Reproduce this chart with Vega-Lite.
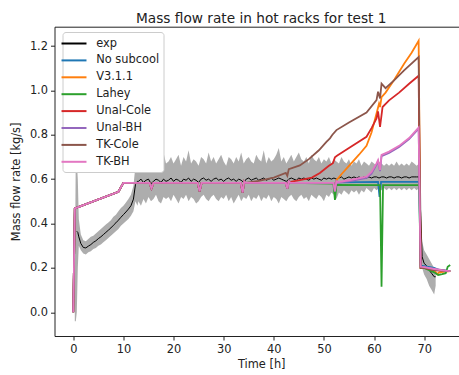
{
  "$schema": "https://vega.github.io/schema/vega-lite/v6.json",
  "width": 413.5,
  "height": 309.3,
  "autosize": {"type": "none"},
  "padding": {"left": 54.5, "top": 26.7, "right": 0, "bottom": 39},
  "background": "white",
  "title": {"text": "Mass flow rate in hot racks for test 1", "fontSize": 13.7, "font": "DejaVu Sans", "fontWeight": "normal", "color": "#222", "anchor": "middle", "frame": "group", "baseline": "alphabetic", "offset": 7, "dy": 16.5},
  "config": {
    "font": "DejaVu Sans",
    "view": {"stroke": "#222", "strokeWidth": 1},
    "axis": {"domain": false, "grid": false, "tickColor": "#222", "tickSize": 4, "tickWidth": 1, "labelFont": "DejaVu Sans", "labelFontSize": 11.4, "labelColor": "#222", "titleFont": "DejaVu Sans", "titleFontSize": 11.4, "titleFontWeight": "normal", "titleColor": "#222", "labelPadding": 3}
  },
  "datasets": {
    "exp": [
      {"t":0.3,"v":null,"lo":-0.04,"hi":0.15},{"t":0.5,"v":null,"lo":-0.04,"hi":0.72},{"t":0.7,"v":0.365,"lo":0.0,"hi":0.68},{"t":0.9,"v":0.36,"lo":0.2,"hi":0.6},{"t":1.1,"v":0.34,"lo":0.3,"hi":0.42},{"t":1.5,"v":0.31,"lo":0.28,"hi":0.35},{"t":2.0,"v":0.292,"lo":0.265,"hi":0.325},{"t":2.5,"v":0.29,"lo":0.26,"hi":0.32},{"t":3.0,"v":0.298,"lo":0.27,"hi":0.33},{"t":3.5,"v":0.305,"lo":0.275,"hi":0.34},{"t":4.0,"v":0.315,"lo":0.285,"hi":0.345},{"t":4.5,"v":0.322,"lo":0.29,"hi":0.355},{"t":5.0,"v":0.332,"lo":0.3,"hi":0.365},{"t":5.5,"v":0.34,"lo":0.305,"hi":0.375},{"t":6.0,"v":0.35,"lo":0.315,"hi":0.385},{"t":6.5,"v":0.36,"lo":0.325,"hi":0.395},{"t":7.0,"v":0.37,"lo":0.335,"hi":0.405},{"t":7.5,"v":0.38,"lo":0.345,"hi":0.415},{"t":8.0,"v":0.392,"lo":0.355,"hi":0.43},{"t":8.5,"v":0.403,"lo":0.365,"hi":0.44},{"t":9.0,"v":0.415,"lo":0.375,"hi":0.455},{"t":9.5,"v":0.428,"lo":0.39,"hi":0.47},{"t":10.0,"v":0.44,"lo":0.4,"hi":0.48},{"t":10.5,"v":0.452,"lo":0.41,"hi":0.495},{"t":11.0,"v":0.465,"lo":0.42,"hi":0.51},{"t":11.5,"v":0.48,"lo":0.435,"hi":0.53},{"t":12.0,"v":0.51,"lo":0.455,"hi":0.57},{"t":12.4,"v":0.575,"lo":0.5,"hi":0.66},{"t":12.8,"v":0.59,"lo":0.48,"hi":0.69},
      {"t":13.0,"v":0.59,"lo":0.5,"hi":0.68},{"t":13.5,"v":0.6,"lo":0.48,"hi":0.7},{"t":14.0,"v":0.585,"lo":0.51,"hi":0.66},{"t":14.5,"v":0.595,"lo":0.49,"hi":0.69},{"t":15.0,"v":0.6,"lo":0.52,"hi":0.71},{"t":15.5,"v":0.58,"lo":0.5,"hi":0.67},{"t":16.0,"v":0.59,"lo":0.51,"hi":0.68},{"t":16.5,"v":0.6,"lo":0.53,"hi":0.7},{"t":17.0,"v":0.595,"lo":0.5,"hi":0.66},{"t":17.5,"v":0.585,"lo":0.49,"hi":0.69},{"t":18.0,"v":0.6,"lo":0.52,"hi":0.72},{"t":18.5,"v":0.59,"lo":0.51,"hi":0.67},{"t":19.0,"v":0.595,"lo":0.52,"hi":0.68},{"t":19.5,"v":0.605,"lo":0.5,"hi":0.7},{"t":20.0,"v":0.59,"lo":0.53,"hi":0.67},{"t":20.5,"v":0.6,"lo":0.51,"hi":0.69},{"t":21.0,"v":0.595,"lo":0.49,"hi":0.71},{"t":21.5,"v":0.585,"lo":0.52,"hi":0.66},{"t":22.0,"v":0.6,"lo":0.51,"hi":0.7},{"t":22.5,"v":0.595,"lo":0.53,"hi":0.68},{"t":23.0,"v":0.605,"lo":0.5,"hi":0.73},{"t":23.5,"v":0.59,"lo":0.52,"hi":0.67},{"t":24.0,"v":0.6,"lo":0.51,"hi":0.69},{"t":24.5,"v":0.595,"lo":0.49,"hi":0.68},{"t":25.0,"v":0.585,"lo":0.5,"hi":0.66},{"t":25.5,"v":0.6,"lo":0.52,"hi":0.7},{"t":26.0,"v":0.605,"lo":0.53,"hi":0.69},{"t":26.5,"v":0.595,"lo":0.51,"hi":0.67},{"t":27.0,"v":0.6,"lo":0.5,"hi":0.72},{"t":27.5,"v":0.59,"lo":0.52,"hi":0.68},{"t":28.0,"v":0.6,"lo":0.53,"hi":0.7},{"t":28.5,"v":0.605,"lo":0.51,"hi":0.67},{"t":29.0,"v":0.595,"lo":0.5,"hi":0.69},{"t":29.5,"v":0.6,"lo":0.52,"hi":0.71},{"t":30.0,"v":0.59,"lo":0.51,"hi":0.68},{"t":30.5,"v":0.6,"lo":0.53,"hi":0.66},{"t":31.0,"v":0.605,"lo":0.5,"hi":0.7},{"t":31.5,"v":0.595,"lo":0.52,"hi":0.69},{"t":32.0,"v":0.6,"lo":0.49,"hi":0.67},{"t":32.5,"v":0.59,"lo":0.51,"hi":0.7},{"t":33.0,"v":0.6,"lo":0.53,"hi":0.68},{"t":33.5,"v":0.595,"lo":0.5,"hi":0.72},{"t":34.0,"v":0.585,"lo":0.52,"hi":0.67},{"t":34.5,"v":0.6,"lo":0.51,"hi":0.69},{"t":35.0,"v":0.605,"lo":0.53,"hi":0.7},{"t":35.5,"v":0.595,"lo":0.5,"hi":0.68},{"t":36.0,"v":0.6,"lo":0.52,"hi":0.67},{"t":36.5,"v":0.605,"lo":0.51,"hi":0.71},{"t":37.0,"v":0.595,"lo":0.53,"hi":0.69},{"t":37.5,"v":0.6,"lo":0.5,"hi":0.68},{"t":38.0,"v":0.605,"lo":0.52,"hi":0.73},{"t":38.5,"v":0.595,"lo":0.51,"hi":0.67},{"t":39.0,"v":0.6,"lo":0.53,"hi":0.7},{"t":39.5,"v":0.605,"lo":0.5,"hi":0.68},{"t":40.0,"v":0.595,"lo":0.52,"hi":0.69},{"t":40.5,"v":0.6,"lo":0.51,"hi":0.71},{"t":41.0,"v":0.605,"lo":0.49,"hi":0.74},{"t":41.5,"v":0.6,"lo":0.52,"hi":0.68},{"t":42.0,"v":0.595,"lo":0.51,"hi":0.7},{"t":42.5,"v":0.59,"lo":0.5,"hi":0.67},{"t":43.0,"v":0.6,"lo":0.52,"hi":0.69},{"t":43.5,"v":0.605,"lo":0.53,"hi":0.71},{"t":44.0,"v":0.6,"lo":0.51,"hi":0.68},{"t":44.5,"v":0.595,"lo":0.5,"hi":0.7},{"t":45.0,"v":0.605,"lo":0.52,"hi":0.72},{"t":45.5,"v":0.6,"lo":0.53,"hi":0.69},{"t":46.0,"v":0.605,"lo":0.51,"hi":0.68},{"t":46.5,"v":0.6,"lo":0.52,"hi":0.7},{"t":47.0,"v":0.595,"lo":0.5,"hi":0.67},{"t":47.5,"v":0.605,"lo":0.53,"hi":0.71},{"t":48.0,"v":0.6,"lo":0.52,"hi":0.69},{"t":48.5,"v":0.605,"lo":0.51,"hi":0.68},{"t":49.0,"v":0.6,"lo":0.53,"hi":0.7},{"t":49.5,"v":0.595,"lo":0.52,"hi":0.67},{"t":50.0,"v":0.605,"lo":0.5,"hi":0.69},{"t":50.5,"v":0.6,"lo":0.53,"hi":0.68},{"t":51.0,"v":0.605,"lo":0.52,"hi":0.7},{"t":51.5,"v":0.6,"lo":0.54,"hi":0.67},{"t":52.0,"v":0.605,"lo":0.53,"hi":0.69},{"t":52.5,"v":0.6,"lo":0.51,"hi":0.68},{"t":53.0,"v":0.605,"lo":0.54,"hi":0.67},{"t":53.5,"v":0.61,"lo":0.53,"hi":0.7},{"t":54.0,"v":0.6,"lo":0.55,"hi":0.68},{"t":54.5,"v":0.605,"lo":0.54,"hi":0.67},{"t":55.0,"v":0.61,"lo":0.53,"hi":0.69},{"t":55.5,"v":0.605,"lo":0.55,"hi":0.66},{"t":56.0,"v":0.61,"lo":0.54,"hi":0.68},{"t":56.5,"v":0.605,"lo":0.55,"hi":0.67},{"t":57.0,"v":0.61,"lo":0.53,"hi":0.69},{"t":57.5,"v":0.605,"lo":0.55,"hi":0.66},{"t":58.0,"v":0.61,"lo":0.54,"hi":0.68},{"t":58.5,"v":0.605,"lo":0.56,"hi":0.67},{"t":59.0,"v":0.61,"lo":0.55,"hi":0.66},{"t":59.5,"v":0.605,"lo":0.54,"hi":0.68},{"t":60.0,"v":0.61,"lo":0.56,"hi":0.67},{"t":60.5,"v":0.61,"lo":0.55,"hi":0.66},{"t":61.0,"v":0.605,"lo":0.56,"hi":0.68},{"t":61.5,"v":0.61,"lo":0.55,"hi":0.67},{"t":62.0,"v":0.61,"lo":0.56,"hi":0.66},{"t":62.5,"v":0.605,"lo":0.55,"hi":0.67},{"t":63.0,"v":0.61,"lo":0.56,"hi":0.66},{"t":63.5,"v":0.61,"lo":0.55,"hi":0.67},{"t":64.0,"v":0.605,"lo":0.56,"hi":0.66},{"t":64.5,"v":0.61,"lo":0.55,"hi":0.68},{"t":65.0,"v":0.61,"lo":0.56,"hi":0.66},{"t":65.5,"v":0.605,"lo":0.55,"hi":0.67},{"t":66.0,"v":0.61,"lo":0.56,"hi":0.66},{"t":66.5,"v":0.61,"lo":0.55,"hi":0.67},{"t":67.0,"v":0.605,"lo":0.56,"hi":0.66},{"t":67.5,"v":0.61,"lo":0.55,"hi":0.68},{"t":68.0,"v":0.61,"lo":0.56,"hi":0.67},{"t":68.5,"v":0.61,"lo":0.55,"hi":0.66},{"t":69.0,"v":0.61,"lo":0.56,"hi":0.67},
      {"t":69.3,"v":0.45,"lo":0.3,"hi":0.62},{"t":69.6,"v":0.25,"lo":0.2,"hi":0.32},{"t":70.0,"v":0.22,"lo":0.17,"hi":0.28},{"t":70.5,"v":0.21,"lo":0.15,"hi":0.26},{"t":71.0,"v":0.19,"lo":0.12,"hi":0.24},{"t":71.5,"v":0.175,"lo":0.1,"hi":0.22},{"t":72.0,"v":0.16,"lo":0.08,"hi":0.2},{"t":72.3,"v":0.16,"lo":0.12,"hi":0.18}
    ],
    "sim": [
      {"series":"No subcool","t":0,"v":0},{"series":"No subcool","t":0.3,"v":0.468},{"series":"No subcool","t":9,"v":0.543},{"series":"No subcool","t":10,"v":0.583},{"series":"No subcool","t":15.2,"v":0.583},{"series":"No subcool","t":15.6,"v":0.558},{"series":"No subcool","t":16,"v":0.583},{"series":"No subcool","t":24.8,"v":0.583},{"series":"No subcool","t":25.2,"v":0.545},{"series":"No subcool","t":25.6,"v":0.583},{"series":"No subcool","t":33.4,"v":0.583},{"series":"No subcool","t":33.8,"v":0.54},{"series":"No subcool","t":34.1,"v":0.59},{"series":"No subcool","t":34.4,"v":0.583},{"series":"No subcool","t":42.4,"v":0.583},{"series":"No subcool","t":42.7,"v":0.558},{"series":"No subcool","t":43.0,"v":0.59},{"series":"No subcool","t":43.3,"v":0.583},{"series":"No subcool","t":51.9,"v":0.583},{"series":"No subcool","t":52.2,"v":0.545},{"series":"No subcool","t":52.5,"v":0.59},{"series":"No subcool","t":52.8,"v":0.585},{"series":"No subcool","t":60.8,"v":0.588},{"series":"No subcool","t":61.1,"v":0.52},{"series":"No subcool","t":61.4,"v":0.588},{"series":"No subcool","t":69.0,"v":0.588},{"series":"No subcool","t":69.3,"v":0.21},{"series":"No subcool","t":70,"v":0.208},{"series":"No subcool","t":72,"v":0.2},{"series":"No subcool","t":73,"v":0.19},{"series":"No subcool","t":75.2,"v":0.185},
      {"series":"V3.1.1","t":0,"v":0},{"series":"V3.1.1","t":0.3,"v":0.468},{"series":"V3.1.1","t":9,"v":0.543},{"series":"V3.1.1","t":10,"v":0.583},{"series":"V3.1.1","t":15.2,"v":0.583},{"series":"V3.1.1","t":15.6,"v":0.558},{"series":"V3.1.1","t":16,"v":0.583},{"series":"V3.1.1","t":24.8,"v":0.583},{"series":"V3.1.1","t":25.2,"v":0.545},{"series":"V3.1.1","t":25.6,"v":0.583},{"series":"V3.1.1","t":33.4,"v":0.583},{"series":"V3.1.1","t":33.8,"v":0.54},{"series":"V3.1.1","t":34.1,"v":0.59},{"series":"V3.1.1","t":34.4,"v":0.583},{"series":"V3.1.1","t":42.4,"v":0.583},{"series":"V3.1.1","t":42.7,"v":0.558},{"series":"V3.1.1","t":43.0,"v":0.59},{"series":"V3.1.1","t":43.3,"v":0.583},{"series":"V3.1.1","t":51.9,"v":0.583},{"series":"V3.1.1","t":52.2,"v":0.545},{"series":"V3.1.1","t":52.5,"v":0.595},{"series":"V3.1.1","t":53.5,"v":0.622},{"series":"V3.1.1","t":55,"v":0.66},{"series":"V3.1.1","t":57,"v":0.71},{"series":"V3.1.1","t":58.5,"v":0.75},{"series":"V3.1.1","t":59.5,"v":0.81},{"series":"V3.1.1","t":60.5,"v":0.896},{"series":"V3.1.1","t":61.0,"v":0.94},{"series":"V3.1.1","t":61.2,"v":0.925},{"series":"V3.1.1","t":61.5,"v":0.97},{"series":"V3.1.1","t":62.3,"v":0.99},{"series":"V3.1.1","t":64.1,"v":1.05},{"series":"V3.1.1","t":66,"v":1.12},{"series":"V3.1.1","t":67.5,"v":1.17},{"series":"V3.1.1","t":68.9,"v":1.224},{"series":"V3.1.1","t":69.3,"v":0.2},{"series":"V3.1.1","t":70,"v":0.2},{"series":"V3.1.1","t":72,"v":0.19},{"series":"V3.1.1","t":72.6,"v":0.172},{"series":"V3.1.1","t":73,"v":0.18},{"series":"V3.1.1","t":75.2,"v":0.185},
      {"series":"Lahey","t":0,"v":0},{"series":"Lahey","t":0.3,"v":0.468},{"series":"Lahey","t":9,"v":0.543},{"series":"Lahey","t":10,"v":0.583},{"series":"Lahey","t":15.2,"v":0.583},{"series":"Lahey","t":15.6,"v":0.558},{"series":"Lahey","t":16,"v":0.583},{"series":"Lahey","t":24.8,"v":0.583},{"series":"Lahey","t":25.2,"v":0.545},{"series":"Lahey","t":25.6,"v":0.583},{"series":"Lahey","t":33.4,"v":0.583},{"series":"Lahey","t":33.8,"v":0.54},{"series":"Lahey","t":34.1,"v":0.59},{"series":"Lahey","t":34.4,"v":0.583},{"series":"Lahey","t":42.4,"v":0.583},{"series":"Lahey","t":42.7,"v":0.558},{"series":"Lahey","t":43.0,"v":0.59},{"series":"Lahey","t":43.3,"v":0.583},{"series":"Lahey","t":51.9,"v":0.58},{"series":"Lahey","t":52.2,"v":0.506},{"series":"Lahey","t":52.5,"v":0.574},{"series":"Lahey","t":61.2,"v":0.573},{"series":"Lahey","t":61.5,"v":0.115},{"series":"Lahey","t":61.8,"v":0.573},{"series":"Lahey","t":69.0,"v":0.573},{"series":"Lahey","t":69.3,"v":0.2},{"series":"Lahey","t":70,"v":0.2},{"series":"Lahey","t":71,"v":0.19},{"series":"Lahey","t":72,"v":0.18},{"series":"Lahey","t":72.8,"v":0.168},{"series":"Lahey","t":73.6,"v":0.172},{"series":"Lahey","t":74.3,"v":0.176},{"series":"Lahey","t":74.7,"v":0.205},{"series":"Lahey","t":75.2,"v":0.213},
      {"series":"Unal-Cole","t":0,"v":0},{"series":"Unal-Cole","t":0.3,"v":0.468},{"series":"Unal-Cole","t":9,"v":0.543},{"series":"Unal-Cole","t":10,"v":0.583},{"series":"Unal-Cole","t":15.2,"v":0.583},{"series":"Unal-Cole","t":15.6,"v":0.558},{"series":"Unal-Cole","t":16,"v":0.583},{"series":"Unal-Cole","t":24.8,"v":0.583},{"series":"Unal-Cole","t":25.2,"v":0.545},{"series":"Unal-Cole","t":25.6,"v":0.583},{"series":"Unal-Cole","t":33.4,"v":0.583},{"series":"Unal-Cole","t":33.8,"v":0.54},{"series":"Unal-Cole","t":34.1,"v":0.59},{"series":"Unal-Cole","t":34.4,"v":0.583},{"series":"Unal-Cole","t":42.4,"v":0.583},{"series":"Unal-Cole","t":42.7,"v":0.558},{"series":"Unal-Cole","t":43.0,"v":0.59},{"series":"Unal-Cole","t":43.3,"v":0.588},{"series":"Unal-Cole","t":45.2,"v":0.596},{"series":"Unal-Cole","t":47.6,"v":0.607},{"series":"Unal-Cole","t":49.2,"v":0.628},{"series":"Unal-Cole","t":51,"v":0.66},{"series":"Unal-Cole","t":51.8,"v":0.672},{"series":"Unal-Cole","t":52.2,"v":0.698},{"series":"Unal-Cole","t":52.6,"v":0.705},{"series":"Unal-Cole","t":55,"v":0.74},{"series":"Unal-Cole","t":58.5,"v":0.791},{"series":"Unal-Cole","t":59.5,"v":0.83},{"series":"Unal-Cole","t":60.5,"v":0.874},{"series":"Unal-Cole","t":60.8,"v":0.905},{"series":"Unal-Cole","t":61.2,"v":0.835},{"series":"Unal-Cole","t":61.7,"v":0.925},{"series":"Unal-Cole","t":63,"v":0.955},{"series":"Unal-Cole","t":65,"v":0.99},{"series":"Unal-Cole","t":67,"v":1.03},{"series":"Unal-Cole","t":68.9,"v":1.066},{"series":"Unal-Cole","t":69.3,"v":0.2},{"series":"Unal-Cole","t":70,"v":0.2},{"series":"Unal-Cole","t":72,"v":0.19},{"series":"Unal-Cole","t":75.2,"v":0.185},
      {"series":"Unal-BH","t":0,"v":0},{"series":"Unal-BH","t":0.3,"v":0.468},{"series":"Unal-BH","t":9,"v":0.543},{"series":"Unal-BH","t":10,"v":0.583},{"series":"Unal-BH","t":15.2,"v":0.583},{"series":"Unal-BH","t":15.6,"v":0.558},{"series":"Unal-BH","t":16,"v":0.583},{"series":"Unal-BH","t":24.8,"v":0.583},{"series":"Unal-BH","t":25.2,"v":0.545},{"series":"Unal-BH","t":25.6,"v":0.583},{"series":"Unal-BH","t":33.4,"v":0.583},{"series":"Unal-BH","t":33.8,"v":0.54},{"series":"Unal-BH","t":34.1,"v":0.59},{"series":"Unal-BH","t":34.4,"v":0.583},{"series":"Unal-BH","t":42.4,"v":0.583},{"series":"Unal-BH","t":42.7,"v":0.558},{"series":"Unal-BH","t":43.0,"v":0.59},{"series":"Unal-BH","t":43.3,"v":0.583},{"series":"Unal-BH","t":51.9,"v":0.583},{"series":"Unal-BH","t":52.2,"v":0.545},{"series":"Unal-BH","t":52.5,"v":0.59},{"series":"Unal-BH","t":52.8,"v":0.585},{"series":"Unal-BH","t":55,"v":0.59},{"series":"Unal-BH","t":58.5,"v":0.605},{"series":"Unal-BH","t":59.5,"v":0.625},{"series":"Unal-BH","t":60.5,"v":0.665},{"series":"Unal-BH","t":60.8,"v":0.68},{"series":"Unal-BH","t":61.2,"v":0.636},{"series":"Unal-BH","t":61.5,"v":0.703},{"series":"Unal-BH","t":63,"v":0.718},{"series":"Unal-BH","t":65,"v":0.745},{"series":"Unal-BH","t":67,"v":0.78},{"series":"Unal-BH","t":68.9,"v":0.828},{"series":"Unal-BH","t":69.3,"v":0.205},{"series":"Unal-BH","t":70,"v":0.203},{"series":"Unal-BH","t":72,"v":0.195},{"series":"Unal-BH","t":75.2,"v":0.185},
      {"series":"TK-Cole","t":0,"v":0},{"series":"TK-Cole","t":0.3,"v":0.468},{"series":"TK-Cole","t":9,"v":0.543},{"series":"TK-Cole","t":10,"v":0.583},{"series":"TK-Cole","t":15.2,"v":0.583},{"series":"TK-Cole","t":15.6,"v":0.558},{"series":"TK-Cole","t":16,"v":0.583},{"series":"TK-Cole","t":24.8,"v":0.583},{"series":"TK-Cole","t":25.2,"v":0.545},{"series":"TK-Cole","t":25.6,"v":0.583},{"series":"TK-Cole","t":33.4,"v":0.583},{"series":"TK-Cole","t":33.8,"v":0.54},{"series":"TK-Cole","t":34.1,"v":0.59},{"series":"TK-Cole","t":34.4,"v":0.583},{"series":"TK-Cole","t":37,"v":0.592},{"series":"TK-Cole","t":40,"v":0.607},{"series":"TK-Cole","t":42.4,"v":0.628},{"series":"TK-Cole","t":42.7,"v":0.615},{"series":"TK-Cole","t":43.0,"v":0.645},{"series":"TK-Cole","t":45.2,"v":0.662},{"series":"TK-Cole","t":47,"v":0.69},{"series":"TK-Cole","t":49,"v":0.73},{"series":"TK-Cole","t":50.5,"v":0.768},{"series":"TK-Cole","t":51.2,"v":0.784},{"series":"TK-Cole","t":51.7,"v":0.8},{"series":"TK-Cole","t":52.5,"v":0.821},{"series":"TK-Cole","t":55,"v":0.855},{"series":"TK-Cole","t":58.5,"v":0.9},{"series":"TK-Cole","t":60.5,"v":0.956},{"series":"TK-Cole","t":60.8,"v":0.994},{"series":"TK-Cole","t":61.2,"v":0.964},{"series":"TK-Cole","t":61.5,"v":1.03},{"series":"TK-Cole","t":62.3,"v":1.01},{"series":"TK-Cole","t":64,"v":1.045},{"series":"TK-Cole","t":66,"v":1.09},{"series":"TK-Cole","t":68.9,"v":1.15},{"series":"TK-Cole","t":69.3,"v":0.2},{"series":"TK-Cole","t":70,"v":0.2},{"series":"TK-Cole","t":72,"v":0.19},{"series":"TK-Cole","t":75.2,"v":0.185},
      {"series":"TK-BH","t":0,"v":0},{"series":"TK-BH","t":0.3,"v":0.468},{"series":"TK-BH","t":9,"v":0.543},{"series":"TK-BH","t":10,"v":0.583},{"series":"TK-BH","t":15.2,"v":0.583},{"series":"TK-BH","t":15.6,"v":0.558},{"series":"TK-BH","t":16,"v":0.583},{"series":"TK-BH","t":24.8,"v":0.583},{"series":"TK-BH","t":25.2,"v":0.545},{"series":"TK-BH","t":25.6,"v":0.583},{"series":"TK-BH","t":33.4,"v":0.583},{"series":"TK-BH","t":33.8,"v":0.54},{"series":"TK-BH","t":34.1,"v":0.59},{"series":"TK-BH","t":34.4,"v":0.583},{"series":"TK-BH","t":42.4,"v":0.583},{"series":"TK-BH","t":42.7,"v":0.558},{"series":"TK-BH","t":43.0,"v":0.59},{"series":"TK-BH","t":43.3,"v":0.583},{"series":"TK-BH","t":51.9,"v":0.583},{"series":"TK-BH","t":52.2,"v":0.545},{"series":"TK-BH","t":52.5,"v":0.59},{"series":"TK-BH","t":52.8,"v":0.587},{"series":"TK-BH","t":55,"v":0.595},{"series":"TK-BH","t":58.5,"v":0.611},{"series":"TK-BH","t":59.5,"v":0.632},{"series":"TK-BH","t":60.5,"v":0.671},{"series":"TK-BH","t":60.8,"v":0.686},{"series":"TK-BH","t":61.2,"v":0.641},{"series":"TK-BH","t":61.5,"v":0.709},{"series":"TK-BH","t":63,"v":0.724},{"series":"TK-BH","t":65,"v":0.75},{"series":"TK-BH","t":67,"v":0.785},{"series":"TK-BH","t":68.9,"v":0.832},{"series":"TK-BH","t":69.3,"v":0.205},{"series":"TK-BH","t":70,"v":0.203},{"series":"TK-BH","t":72,"v":0.195},{"series":"TK-BH","t":74,"v":0.188},{"series":"TK-BH","t":75.2,"v":0.185}
    ]
  },
  "layer": [
    {
      "data": {"name": "exp"},
      "mark": {"type": "area", "color": "#8a8a8a", "opacity": 0.7, "clip": true},
      "encoding": {
        "x": {"field": "t", "type": "quantitative", "scale": {"domain": [-3.75, 78.75], "nice": false, "zero": false}, "axis": {"values": [0,10,20,30,40,50,60,70], "title": "Time [h]", "titlePadding": 4}},
        "y": {"field": "lo", "type": "quantitative", "scale": {"domain": [-0.107, 1.287], "nice": false, "zero": false}, "axis": {"values": [0,0.2,0.4,0.6,0.8,1.0,1.2], "format": ".1f", "title": "Mass flow rate [kg/s]", "titlePadding": 8}},
        "y2": {"field": "hi"}
      }
    },
    {
      "data": {"name": "exp"},
      "mark": {"type": "line", "strokeWidth": 1, "invalid": "filter", "clip": true},
      "encoding": {
        "x": {"field": "t", "type": "quantitative"},
        "y": {"field": "v", "type": "quantitative", "title": "Mass flow rate [kg/s]"},
        "color": {"datum": "exp"}
      }
    },
    {
      "data": {"name": "sim"},
      "mark": {"type": "line", "strokeWidth": 1.8, "clip": true},
      "encoding": {
        "x": {"field": "t", "type": "quantitative"},
        "y": {"field": "v", "type": "quantitative", "title": "Mass flow rate [kg/s]"},
        "color": {
          "field": "series",
          "type": "nominal",
          "scale": {"domain": ["exp","No subcool","V3.1.1","Lahey","Unal-Cole","Unal-BH","TK-Cole","TK-BH"], "range": ["#000000","#1f77b4","#ff7f0e","#2ca02c","#d62728","#9467bd","#8c564b","#e377c2"]},
          "legend": {"orient": "none", "legendX": 8, "legendY": 5.3, "title": null, "symbolType": "M-2,0H2", "symbolSize": 156, "symbolStrokeWidth": 2, "labelFontSize": 11.4, "labelColor": "#222", "fillColor": "white", "strokeColor": "#cccccc", "cornerRadius": 3, "padding": 4, "rowPadding": 3.9, "labelOffset": 14.7}
        }
      }
    }
  ]
}
